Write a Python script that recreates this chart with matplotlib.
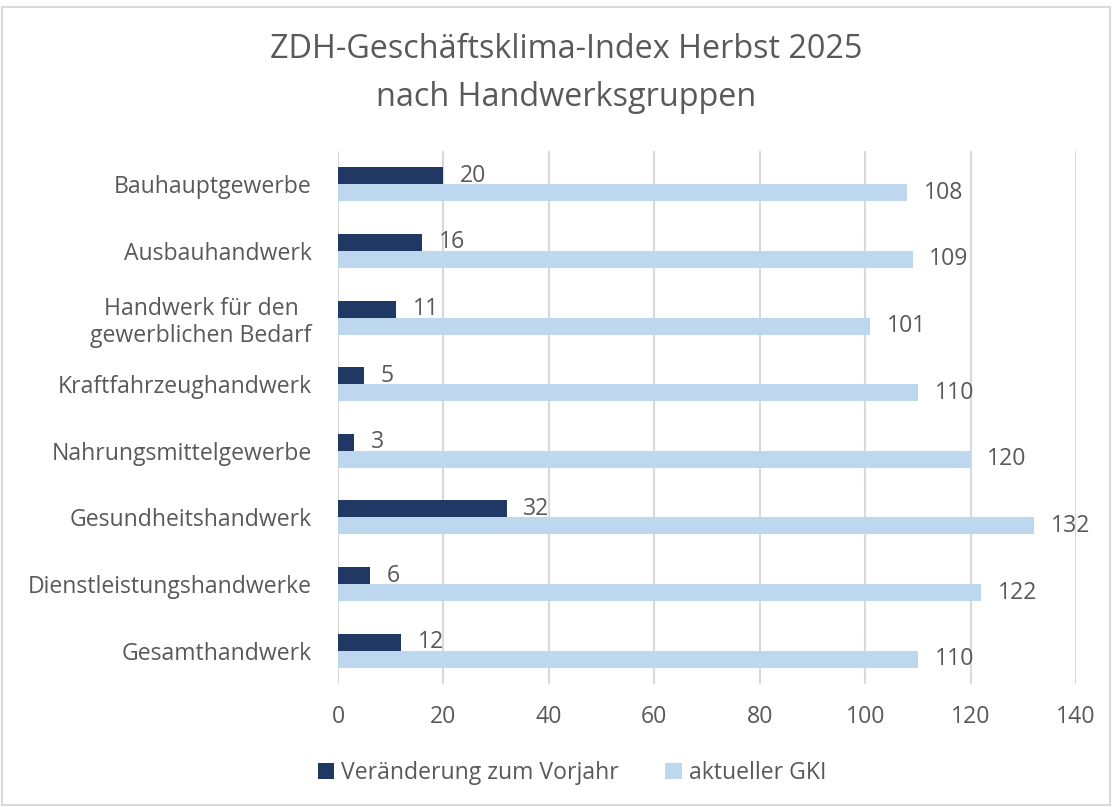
import matplotlib
matplotlib.use("Agg")
import matplotlib.pyplot as plt
import numpy as np
from matplotlib.patches import Rectangle

categories = ["Bauhauptgewerbe", "Ausbauhandwerk", "Handwerk für den\ngewerblichen Bedarf",
              "Kraftfahrzeughandwerk", "Nahrungsmittelgewerbe", "Gesundheitshandwerk",
              "Dienstleistungshandwerke", "Gesamthandwerk"]
veraenderung = [20, 16, 11, 5, 3, 32, 6, 12]
aktuell = [108, 109, 101, 110, 120, 132, 122, 110]
series_names = ["Veränderung zum Vorjahr", "aktueller GKI"]
title_lines = ["ZDH-Geschäftsklima-Index Herbst 2025", "nach Handwerksgruppen"]

plt.rcParams['font.family'] = ['Open Sans', 'DejaVu Sans']
txt = "#595959"
dark = "#1F3864"
light = "#BDD7EE"
fs = 16.6

fig = plt.figure(figsize=(11.16, 8.07), dpi=100)
ax = fig.add_axes([338/1116, 1-684/807, (1076-338)/1116, (684-151)/807])

n = len(categories)
y = np.arange(n)
h = 0.256
ax.barh(y - h/2, veraenderung, height=h, color=dark, label=series_names[0], zorder=3)
ax.barh(y + h/2, aktuell, height=h, color=light, label=series_names[1], zorder=3)

for yi, v in zip(y, veraenderung):
    ax.annotate(str(v), (v, yi - h/2), xytext=(12, 0), textcoords="offset points",
                va="center", ha="left", fontsize=fs, color=txt)
for yi, v in zip(y, aktuell):
    ax.annotate(str(v), (v, yi + h/2), xytext=(12, 0), textcoords="offset points",
                va="center", ha="left", fontsize=fs, color=txt)

ax.set_ylim(n - 0.5, -0.5)
ax.set_xlim(0, 140)
ax.set_xticks(np.arange(0, 141, 20))
ax.set_yticks(y)
ax.set_yticklabels(categories, fontsize=fs, color=txt, ha="right", multialignment="center")
ax.tick_params(axis="y", length=0, pad=19)
ax.tick_params(axis="x", length=0, labelsize=fs, labelcolor=txt, pad=15)
ax.grid(axis="x", color="#D9D9D9", linewidth=1.5, zorder=0)
for s in ax.spines.values():
    s.set_visible(False)
ax.axvline(0, color="#D9D9D9", linewidth=1.5, zorder=1)

fig.text(566/1116, 1-50/807, title_lines[0], ha="center", va="center", fontsize=23.3, color=txt)
fig.text(566/1116, 1-97/807, title_lines[1], ha="center", va="center", fontsize=23.3, color=txt)

leg = fig.legend(loc="center", bbox_to_anchor=(572/1116, 1-773/807), ncol=2, frameon=False,
                 fontsize=fs, handlelength=0.72, handleheight=0.72, handletextpad=0.3,
                 columnspacing=2.0)
for t in leg.get_texts():
    t.set_color(txt)

fig.patches.append(Rectangle((2/1116, 2/807), 1108/1116, 798/807, transform=fig.transFigure,
                             fill=False, edgecolor="#D9D9D9", linewidth=1.5))

fig.savefig("out.png", dpi=100)
